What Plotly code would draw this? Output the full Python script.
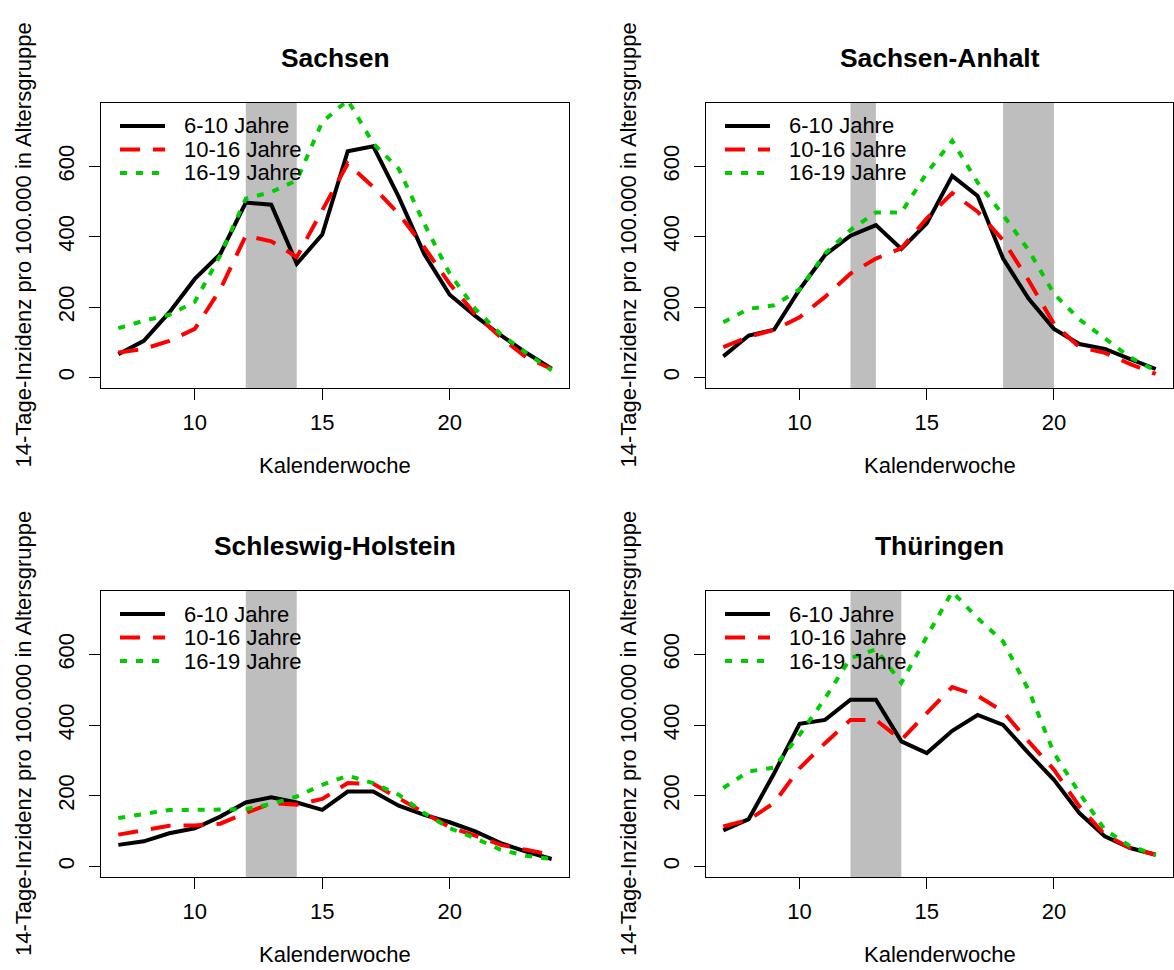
import plotly.graph_objects as go

# Calendar weeks on the x axis
weeks = list(range(7, 25))

states = ["Sachsen", "Sachsen-Anhalt", "Schleswig-Holstein", "Thüringen"]
age_groups = ["6-10 Jahre", "10-16 Jahre", "16-19 Jahre"]

# 14-day incidence per 100,000 in each age group
sachsen_6_10 = [66, 104, 185, 280, 351, 497, 491, 323, 406, 643, 657, 513, 351, 235, 175, 120, 70, 25]
sachsen_10_16 = [71, 81, 104, 138, 250, 403, 387, 342, 475, 608, 541, 465, 370, 266, 180, 114, 57, 24]
sachsen_16_19 = [140, 161, 178, 215, 347, 508, 527, 560, 726, 788, 665, 593, 437, 295, 195, 123, 70, 20]

anhalt_6_10 = [60, 119, 136, 250, 348, 403, 433, 365, 438, 573, 516, 338, 224, 138, 95, 81, 52, 24]
anhalt_10_16 = [86, 116, 135, 171, 229, 295, 338, 367, 452, 524, 471, 390, 276, 152, 86, 70, 38, 10]
anhalt_16_19 = [157, 195, 205, 250, 352, 419, 469, 469, 581, 673, 554, 462, 362, 238, 165, 110, 57, 19]

holstein_6_10 = [61, 71, 94, 108, 141, 181, 196, 181, 160, 212, 212, 172, 146, 125, 99, 66, 42, 21]
holstein_10_16 = [90, 102, 115, 116, 121, 151, 179, 175, 191, 236, 234, 193, 151, 111, 87, 61, 47, 33]
holstein_16_19 = [137, 149, 160, 160, 160, 162, 177, 198, 231, 257, 236, 203, 151, 108, 80, 47, 30, 21]

thueringen_6_10 = [102, 134, 264, 404, 415, 472, 472, 354, 321, 384, 429, 401, 321, 245, 151, 85, 52, 33]
thueringen_10_16 = [113, 132, 180, 278, 349, 415, 415, 358, 434, 508, 483, 439, 354, 274, 170, 90, 52, 33]
thueringen_16_19 = [222, 269, 280, 373, 476, 590, 615, 520, 651, 778, 703, 637, 500, 321, 208, 104, 57, 33]

series = {
    "Sachsen": [sachsen_6_10, sachsen_10_16, sachsen_16_19],
    "Sachsen-Anhalt": [anhalt_6_10, anhalt_10_16, anhalt_16_19],
    "Schleswig-Holstein": [holstein_6_10, holstein_10_16, holstein_16_19],
    "Thüringen": [thueringen_6_10, thueringen_10_16, thueringen_16_19],
}

# School holiday periods (start week, end week) per state
holidays = {
    "Sachsen": [(12, 14)],
    "Sachsen-Anhalt": [(12, 13), (18, 20)],
    "Schleswig-Holstein": [(12, 14)],
    "Thüringen": [(12, 14)],
}

x_ticks = [10, 15, 20]
y_ticks = [0, 200, 400, 600]

W, H = 1174, 970
FONT = "Liberation Sans, Arial, sans-serif"
colors = ["#000000", "#FF0000", "#00CD00"]
dashes = ["solid", "20px,13px", "7px,9px"]
LW = 4

# plot boxes in pixels: (left, right, top, bottom)
boxes = [(101, 569, 103, 388), (706, 1173, 103, 388),
         (101, 569, 591, 877), (706, 1173, 591, 877)]

fig = go.Figure()
shapes = []
annotations = []

for i, state in enumerate(states):
    n = "" if i == 0 else str(i + 1)
    xa, ya = "x" + n, "y" + n
    left, right, top, bottom = boxes[i]

    fig.update_layout({
        "xaxis" + n: dict(
            domain=[left / W, right / W], anchor=ya,
            range=[6.32, 24.68], tickvals=x_ticks,
            showgrid=False, zeroline=False,
            showline=True, mirror=True, linecolor="black", linewidth=1.3,
            ticks="outside", ticklen=11, tickwidth=1.3, tickcolor="black",
            tickfont=dict(family=FONT, size=22, color="black"),
            ticklabelstandoff=3,
        ),
        "yaxis" + n: dict(
            domain=[1 - bottom / H, 1 - top / H], anchor=xa,
            range=[-30, 780], tickvals=y_ticks, tickangle=-90,
            showgrid=False, zeroline=False,
            showline=True, mirror=True, linecolor="black", linewidth=1.3,
            ticks="outside", ticklen=11, tickwidth=1.3, tickcolor="black",
            tickfont=dict(family=FONT, size=22, color="black"),
            ticklabelstandoff=6,
        ),
    })

    for x0, x1 in holidays[state]:
        shapes.append(dict(type="rect", xref=xa, yref=ya + " domain",
                           x0=x0, x1=x1, y0=0, y1=1,
                           fillcolor="#BEBEBE", line=dict(width=0), layer="below"))

    for k, values in enumerate(series[state]):
        fig.add_trace(go.Scatter(
            x=weeks, y=values, mode="lines", name=age_groups[k],
            line=dict(color=colors[k], width=LW, dash=dashes[k]),
            xaxis=xa, yaxis=ya, showlegend=False,
        ))

    # in-panel legend
    bw, bh = right - left, bottom - top
    for k, label in enumerate(age_groups):
        row_y = 1 - (23 + 23.5 * k) / bh
        shapes.append(dict(type="line", xref=xa + " domain", yref=ya + " domain",
                           x0=19 / bw, x1=64 / bw, y0=row_y, y1=row_y,
                           line=dict(color=colors[k], width=LW, dash=dashes[k])))
        annotations.append(dict(xref=xa + " domain", yref=ya + " domain",
                                x=81 / bw, y=row_y, xanchor="left", yanchor="middle",
                                text=label, showarrow=False,
                                font=dict(family=FONT, size=22, color="black")))

    cx = (left + right) / 2 / W
    annotations.append(dict(xref="paper", yref="paper", x=cx, y=1 - (top - 45) / H,
                            xanchor="center", yanchor="middle", text="<b>" + state + "</b>",
                            showarrow=False, font=dict(family=FONT, size=26.4, color="black")))
    annotations.append(dict(xref="paper", yref="paper", x=cx, y=1 - (bottom + 77) / H,
                            xanchor="center", yanchor="middle", text="Kalenderwoche",
                            showarrow=False, font=dict(family=FONT, size=22, color="black")))
    annotations.append(dict(xref="paper", yref="paper", x=(left - 78) / W,
                            y=1 - (top + bottom) / 2 / H, xanchor="center", yanchor="middle",
                            textangle=-90, text="14-Tage-Inzidenz pro 100.000 in Altersgruppe",
                            showarrow=False, font=dict(family=FONT, size=22, color="black")))

fig.update_layout(
    width=W, height=H,
    margin=dict(l=0, r=0, t=0, b=0),
    paper_bgcolor="white", plot_bgcolor="white",
    shapes=shapes, annotations=annotations,
    showlegend=False,
)

fig.write_html("out.html")
